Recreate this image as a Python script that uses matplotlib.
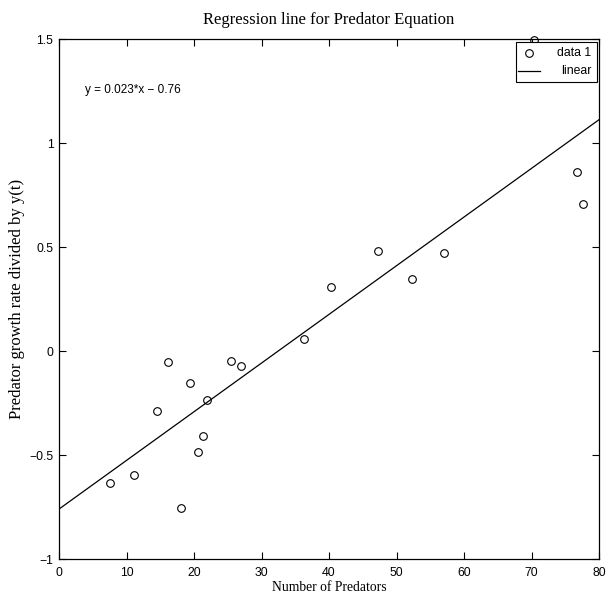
import matplotlib
matplotlib.use("Agg")
import matplotlib.pyplot as plt
from matplotlib.patches import Rectangle
import numpy as np

predators = [7.6, 11.1, 14.5, 16.1, 18.1, 19.4, 20.6, 21.3, 21.9, 25.5, 27.0,
             36.3, 40.3, 47.3, 52.3, 57.0, 70.4, 76.7, 77.6]
growth = [-0.635, -0.596, -0.290, -0.053, -0.755, -0.154, -0.486, -0.409, -0.236,
          -0.048, -0.072, 0.058, 0.308, 0.481, 0.346, 0.471, 1.495, 0.861, 0.707]
slope = 0.0234
intercept = -0.76
eq_text = "y = 0.023*x \u2212 0.76"
xticks = [0, 10, 20, 30, 40, 50, 60, 70, 80]
yticks = [-1, -0.5, 0, 0.5, 1, 1.5]
yticklabels = ["\u22121", "\u22120.5", "0", "0.5", "1", "1.5"]

fig = plt.figure(figsize=(6.08, 5.96), dpi=100)
ax = fig.add_axes([59/608, 1-559/596, 540/608, 520/596])

xs = np.array([0, 80])
ax.plot(xs, slope*xs + intercept, color='black', lw=0.9)
ax.plot(predators, growth, linestyle='none', marker='o', markersize=5.5,
        markerfacecolor='none', markeredgecolor='black', markeredgewidth=0.8,
        clip_on=False, zorder=5)

ax.set_xlim(0, 80)
ax.set_ylim(-1, 1.5)
ax.set_xticks(xticks)
ax.set_xticklabels([str(t) for t in xticks], family='Liberation Sans', fontsize=8.8)
ax.set_yticks(yticks)
ax.set_yticklabels(yticklabels, family='Liberation Sans', fontsize=8.8)
ax.tick_params(direction='in', top=True, right=True, length=5, width=0.8)
ax.tick_params(axis='x', pad=6)
ax.tick_params(axis='y', pad=4)
for s in ax.spines.values():
    s.set_linewidth(0.9)

ax.set_title("Regression line for Predator Equation", family='Liberation Serif',
             fontsize=12, pad=11)
ax.set_xlabel("Number of Predators", family='Liberation Serif', fontsize=9.8, labelpad=1)
ax.set_ylabel("Predator growth rate divided by y(t)", family='Liberation Serif',
              fontsize=12, labelpad=3)

ax.text(3.8, 1.255, eq_text, family='Liberation Sans', fontsize=8.5, va='center', ha='left')

# MATLAB-style legend
tr = ax.transAxes
def px2ax(px, py):
    return ((px - 59) / 540, (559 - py) / 520)
x0, y0 = px2ax(516, 82)
x1, y1 = px2ax(597, 42)
ax.add_patch(Rectangle((x0, y0), x1 - x0, y1 - y0, transform=tr, facecolor='white',
                       edgecolor='black', lw=0.8, zorder=6))
mx, my = px2ax(529, 53)
ax.plot([mx], [my], marker='o', markersize=5.5, markerfacecolor='none',
        markeredgecolor='black', markeredgewidth=0.8, transform=tr, zorder=7)
lx0, ly = px2ax(518, 71)
lx1, _ = px2ax(540, 71)
ax.plot([lx0, lx1], [ly, ly], color='black', lw=0.9, transform=tr, zorder=7)
tx, ty1 = px2ax(591, 53)
_, ty2 = px2ax(591, 71)
ax.text(tx, ty1, "data 1", transform=tr, ha='right', va='center',
        family='Liberation Sans', fontsize=8.8, zorder=7)
ax.text(tx, ty2, "linear", transform=tr, ha='right', va='center',
        family='Liberation Sans', fontsize=8.8, zorder=7)

fig.savefig("out.png", dpi=100)
